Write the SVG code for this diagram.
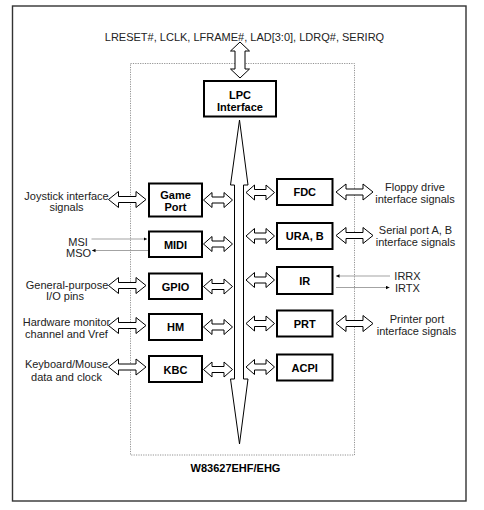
<svg xmlns="http://www.w3.org/2000/svg" width="484" height="510" viewBox="0 0 484 510">
<style>
.t{font-family:"Liberation Sans",Arial,sans-serif;font-size:11px;fill:#222;text-anchor:middle}
.b{font-family:"Liberation Sans",Arial,sans-serif;font-size:11px;font-weight:bold;fill:#000;text-anchor:middle}
.box{fill:#fff;stroke:#000;stroke-width:2}
.da{fill:#fff;stroke:#000;stroke-width:1}
.sig{stroke:#999;stroke-width:0.9;fill:none}
</style>
<defs>
<marker id="ah" markerWidth="4" markerHeight="4" refX="3.5" refY="2" orient="auto" markerUnits="userSpaceOnUse">
<path d="M0,0.3 L3.5,2 L0,3.7 Z" fill="#000"/>
</marker>
</defs>
<rect width="484" height="510" fill="#fff"/>
<rect x="12.5" y="6" width="453.5" height="495" fill="none" stroke="#333" stroke-width="1.4"/>
<rect x="130.5" y="63.5" width="224" height="391.5" fill="none" stroke="#777" stroke-width="0.8" stroke-dasharray="1.2,1.2"/>
<text class="t" x="244.5" y="40.5">LRESET#, LCLK, LFRAME#, LAD[3:0], LDRQ#, SERIRQ</text>
<text class="b" x="235.5" y="471.5">W83627EHF/EHG</text>

<g id="connectors">
<!-- top LPC arrow -->
<path class="da" d="M240,42 L249.5,51 L245,51 L245,69 L249.5,69 L240,78 L230.5,69 L235,69 L235,51 L230.5,51 Z"/>
<!-- internal bus -->
<path class="da" d="M239.5,120 L248,185 L243.5,185 L243.5,379 L248,379 L239.5,444 L230.5,379 L234.5,379 L234.5,185 L230.5,185 Z"/>
<!-- left inner arrows -->
<path class="da" d="M203.5,200 L212,192.5 L212,197 L224,197 L224,192.5 L232.5,200 L224,207.5 L224,203 L212,203 L212,207.5 Z"/>
<path class="da" d="M203.5,244 L212,236.5 L212,241 L224,241 L224,236.5 L232.5,244 L224,251.5 L224,247 L212,247 L212,251.5 Z"/>
<path class="da" d="M203.5,286.5 L212,279 L212,283.5 L224,283.5 L224,279 L232.5,286.5 L224,294 L224,289.5 L212,289.5 L212,294 Z"/>
<path class="da" d="M203.5,327 L212,319.5 L212,324 L224,324 L224,319.5 L232.5,327 L224,334.5 L224,330 L212,330 L212,334.5 Z"/>
<path class="da" d="M203.5,369.5 L212,362 L212,366.5 L224,366.5 L224,362 L232.5,369.5 L224,377 L224,372.5 L212,372.5 L212,377 Z"/>
<!-- right inner arrows -->
<path class="da" d="M246,192.5 L254.5,185 L254.5,189.5 L266,189.5 L266,185 L274.5,192.5 L266,200 L266,195.5 L254.5,195.5 L254.5,200 Z"/>
<path class="da" d="M246,236 L254.5,228.5 L254.5,233 L266,233 L266,228.5 L274.5,236 L266,243.5 L266,239 L254.5,239 L254.5,243.5 Z"/>
<path class="da" d="M246,280 L254.5,272.5 L254.5,277 L266,277 L266,272.5 L274.5,280 L266,287.5 L266,283 L254.5,283 L254.5,287.5 Z"/>
<path class="da" d="M246,323.5 L254.5,316 L254.5,320.5 L266,320.5 L266,316 L274.5,323.5 L266,331 L266,326.5 L254.5,326.5 L254.5,331 Z"/>
<path class="da" d="M246,367 L254.5,359.5 L254.5,364 L266,364 L266,359.5 L274.5,367 L266,374.5 L266,370 L254.5,370 L254.5,374.5 Z"/>
<!-- left outer arrows -->
<path class="da" d="M108.5,199.5 L118.5,191.5 L118.5,196.5 L136,196.5 L136,191.5 L146,199.5 L136,207.5 L136,202.5 L118.5,202.5 L118.5,207.5 Z"/>
<path class="da" d="M108.5,285.5 L118.5,277.5 L118.5,282.5 L136,282.5 L136,277.5 L146,285.5 L136,293.5 L136,288.5 L118.5,288.5 L118.5,293.5 Z"/>
<path class="da" d="M108.5,325.5 L118.5,317.5 L118.5,322.5 L136,322.5 L136,317.5 L146,325.5 L136,333.5 L136,328.5 L118.5,328.5 L118.5,333.5 Z"/>
<path class="da" d="M108.5,367 L118.5,359 L118.5,364 L136,364 L136,359 L146,367 L136,375 L136,370 L118.5,370 L118.5,375 Z"/>
<!-- right outer arrows -->
<path class="da" d="M336,192 L346,184 L346,189 L363,189 L363,184 L373,192 L363,200 L363,195 L346,195 L346,200 Z"/>
<path class="da" d="M336,235.5 L346,227.5 L346,232.5 L363,232.5 L363,227.5 L373,235.5 L363,243.5 L363,238.5 L346,238.5 L346,243.5 Z"/>
<path class="da" d="M336,323.5 L346,315.5 L346,320.5 L363,320.5 L363,315.5 L373,323.5 L363,331.5 L363,326.5 L346,326.5 L346,331.5 Z"/>
<!-- thin signal lines -->
<line class="sig" x1="91.5" y1="239" x2="147" y2="239" marker-end="url(#ah)"/>
<line class="sig" x1="148" y1="250.5" x2="92" y2="250.5" marker-end="url(#ah)"/>
<line class="sig" x1="390" y1="276" x2="336" y2="276" marker-end="url(#ah)"/>
<line class="sig" x1="336" y1="287.5" x2="389.5" y2="287.5" marker-end="url(#ah)"/>
</g>

<g id="lpc"><rect class="box" x="204" y="81" width="72" height="35.5"/><text class="b" x="240" y="98.5">LPC</text><text class="b" x="240" y="111">Interface</text></g>
<g id="gameport"><rect class="box" x="149" y="183.5" width="53" height="33"/><text class="b" x="175.5" y="199">Game</text><text class="b" x="175.5" y="210.5">Port</text></g>
<g id="midi"><rect class="box" x="149" y="231.5" width="53" height="25.5"/><text class="b" x="175.5" y="248.5">MIDI</text></g>
<g id="gpio"><rect class="box" x="149" y="273.5" width="53" height="25.5"/><text class="b" x="175.5" y="290.5">GPIO</text></g>
<g id="hm"><rect class="box" x="149" y="314" width="53" height="26"/><text class="b" x="175.5" y="331">HM</text></g>
<g id="kbc"><rect class="box" x="149" y="356" width="53" height="26"/><text class="b" x="175.5" y="373.5">KBC</text></g>
<g id="fdc"><rect class="box" x="277" y="179" width="55.5" height="26"/><text class="b" x="304.75" y="196">FDC</text></g>
<g id="ura"><rect class="box" x="277" y="223" width="55.5" height="26"/><text class="b" x="304.75" y="240">URA, B</text></g>
<g id="ir"><rect class="box" x="277" y="267" width="55.5" height="27"/><text class="b" x="304.75" y="284.5">IR</text></g>
<g id="prt"><rect class="box" x="277" y="310.5" width="55.5" height="26"/><text class="b" x="304.75" y="327.5">PRT</text></g>
<g id="acpi"><rect class="box" x="277" y="354.5" width="55.5" height="26"/><text class="b" x="304.75" y="371.5">ACPI</text></g>

<g id="labels">
<text class="t" x="66.5" y="199.5">Joystick interface</text>
<text class="t" x="66.5" y="211">signals</text>
<text class="t" x="78" y="245.5">MSI</text>
<text class="t" x="78.5" y="257">MSO</text>
<text class="t" x="67" y="288.5">General-purpose</text>
<text class="t" x="65" y="300">I/O pins</text>
<text class="t" x="66.5" y="326">Hardware monitor</text>
<text class="t" x="66.5" y="338">channel and Vref</text>
<text class="t" x="66.5" y="368">Keyboard/Mouse</text>
<text class="t" x="66.5" y="380.5">data and clock</text>
<text class="t" x="415" y="191">Floppy drive</text>
<text class="t" x="415" y="203">interface signals</text>
<text class="t" x="415.5" y="233.5">Serial port A, B</text>
<text class="t" x="415.5" y="245.5">interface signals</text>
<text class="t" x="407.5" y="280">IRRX</text>
<text class="t" x="407.5" y="292">IRTX</text>
<text class="t" x="417" y="322.5">Printer port</text>
<text class="t" x="416.5" y="335">interface signals</text>
</g>
</svg>
